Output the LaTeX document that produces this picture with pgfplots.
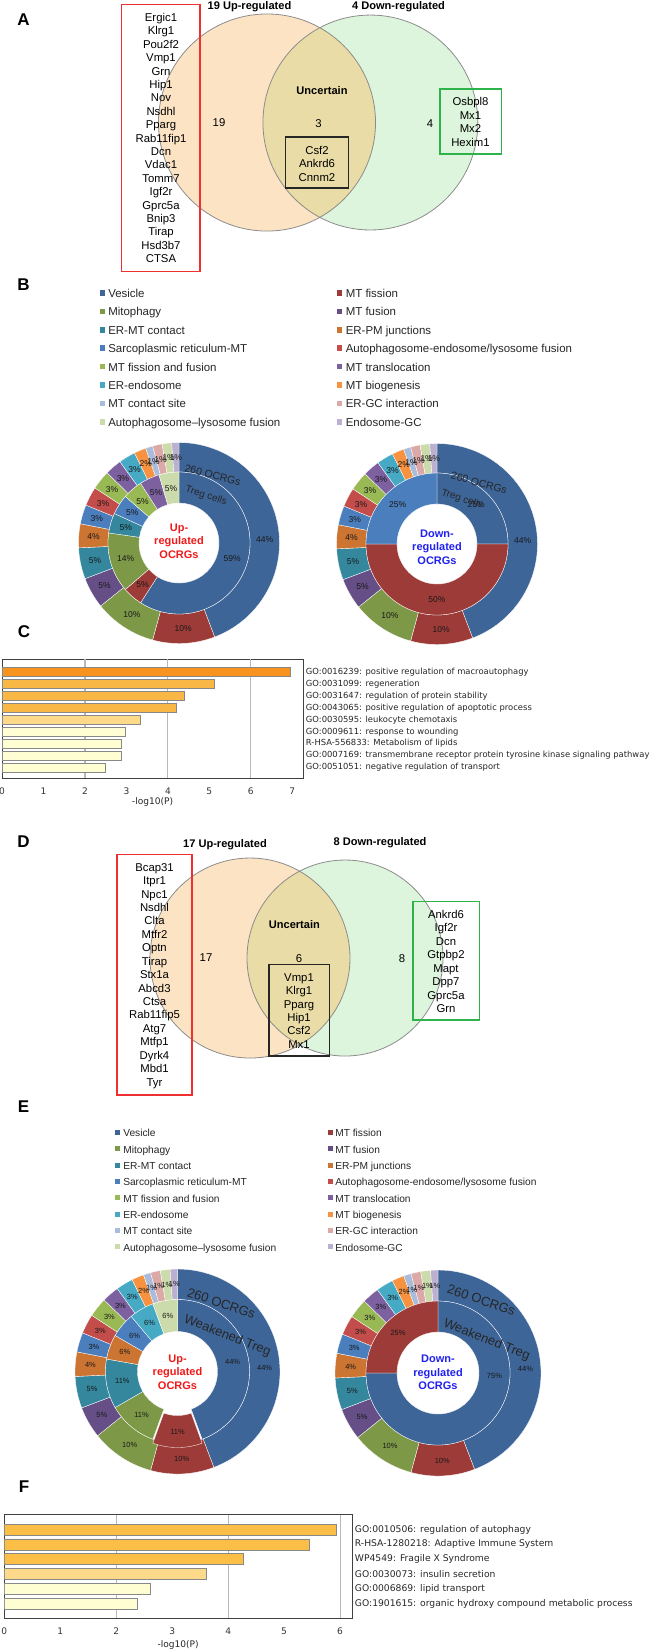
\documentclass[border=0pt]{standalone}
\usepackage{fontspec}
\setmainfont{Liberation Sans}
\newfontfamily\dv{DejaVu Sans}
\usepackage{pgfplots}
\pgfplotsset{compat=1.18}

\definecolor{cVes}{HTML}{3E6598}
\definecolor{cMTf}{HTML}{9D3B38}
\definecolor{cMito}{HTML}{7D9948}
\definecolor{cMTfu}{HTML}{654F86}
\definecolor{cERMT}{HTML}{34879D}
\definecolor{cERPM}{HTML}{CC7432}
\definecolor{cSarc}{HTML}{4B7EBD}
\definecolor{cAEL}{HTML}{C24D4A}
\definecolor{cMTff}{HTML}{98B954}
\definecolor{cMTtr}{HTML}{7D60A0}
\definecolor{cERen}{HTML}{46AAC5}
\definecolor{cMTbio}{HTML}{F69240}
\definecolor{cMTcs}{HTML}{A9BCDC}
\definecolor{cERGC}{HTML}{DDA9A8}
\definecolor{cALF}{HTML}{CCDBAB}
\definecolor{cEGC}{HTML}{BBB0D0}
\definecolor{vUp}{HTML}{FCE3C4}
\definecolor{vDn}{HTML}{DDF5DD}
\definecolor{vOv}{HTML}{E9DCA6}
\definecolor{vEdge}{HTML}{8C8C8C}
\definecolor{boxRed}{HTML}{EE3030}
\definecolor{boxGreen}{HTML}{2DB34A}
\definecolor{cRed}{HTML}{F01818}
\definecolor{cBlue}{HTML}{2020F0}
\definecolor{bO1}{HTML}{F7941E}
\definecolor{bO2}{HTML}{F9B845}
\definecolor{bO3}{HTML}{FDDA8A}
\definecolor{bO4}{HTML}{FFFDD2}
\definecolor{bF1}{HTML}{FBBF47}
\definecolor{bEdge}{HTML}{888888}

\tikzset{
  gene/.style={font=\fontsize{8.5pt}{10pt}\selectfont, inner sep=0pt, text height=1.5ex, text depth=0.25ex},
  vtitle/.style={font=\bfseries\fontsize{8.3pt}{10pt}\selectfont, inner sep=0pt, text height=1.5ex, text depth=0.25ex},
  letter/.style={font=\bfseries\fontsize{12.75pt}{14pt}\selectfont, inner sep=0pt, text height=1.5ex, text depth=0pt},
  ctr/.style={font=\bfseries\fontsize{8.25pt}{10.1pt}\selectfont, align=center, inner sep=0pt},
  pctB/.style={font=\fontsize{6.4pt}{7pt}\selectfont, text=black!90, inner sep=0pt},
  pctE/.style={font=\fontsize{5.6pt}{6.5pt}\selectfont, text=black!90, inner sep=0pt},
  pct/.style={pctB},
  legtxt/.style={anchor=west, inner sep=0pt, text=black!85, text height=1.5ex, text depth=0.25ex},
}

\newcommand{\aelname}{Autophagosome-endosome/lysosome fusion}
\newcommand{\alfname}{Autophagosome\textendash lysosome fusion}

% ring: #1 cx, #2 cy, #3 rin, #4 rout, #5 total, #6 list, #7 mode (1 fill, 2 labels)
\newcommand{\ring}[7]{%
  \gdef\accum{0}%
  \pgfmathsetmacro{\unitang}{360/#5}%
  \foreach \vv/\cc/\lb/\la/\ex in #6 {%
    \pgfmathsetmacro{\aS}{90-\accum*\unitang}%
    \pgfmathsetmacro{\aE}{90-(\accum+\vv)*\unitang}%
    \pgfmathsetmacro{\aM}{(\aS+\aE)/2}%
    \pgfmathsetmacro{\cxx}{#1+\ex*cos(\aM)}%
    \pgfmathsetmacro{\cyy}{#2-\ex*sin(\aM)}%
    \ifnum#7=1
      \pgfmathsetmacro{\xo}{\cxx+#4*cos(\aS)}%
      \pgfmathsetmacro{\yo}{\cyy-#4*sin(\aS)}%
      \pgfmathsetmacro{\xin}{\cxx+#3*cos(\aE)}%
      \pgfmathsetmacro{\yin}{\cyy-#3*sin(\aE)}%
      \pgfmathsetmacro{\ro}{#4*0.75}%
      \pgfmathsetmacro{\ri}{#3*0.75}%
      \fill[\cc, draw=white, line width=0.25pt] (axis cs:\xo,\yo) arc[start angle=\aS, end angle=\aE, radius=\ro pt] -- (axis cs:\xin,\yin) arc[start angle=\aE, end angle=\aS, radius=\ri pt] -- cycle;
    \else
      \pgfmathsetmacro{\aL}{\la>900 ? \aM : \la}%
      \pgfmathsetmacro{\rl}{(#3+#4)/2}%
      \pgfmathsetmacro{\xl}{\cxx+\rl*cos(\aL)}%
      \pgfmathsetmacro{\yl}{\cyy-\rl*sin(\aL)}%
      \node[pct] at (axis cs:\xl,\yl) {\lb\%};
    \fi
    \pgfmathsetmacro{\tmp}{\accum+\vv}\xdef\accum{\tmp}%
  }%
}

\newcommand{\genelist}[4]{%
  \foreach \g [count=\i from 0] in {#4} {%
    \pgfmathsetmacro{\gy}{#2+#3*\i}%
    \node[gene] at (axis cs:#1,\gy) {\g};
  }%
}

% #1 sq1 x, #2 text1 x, #3 sq2 x, #4 text2 x, #5 y0, #6 dy, #7 half size (pt)
\newcommand{\legendset}[7]{%
  \foreach \i/\ca/\ta/\cb/\tb in {0/cVes/Vesicle/cMTf/MT fission,1/cMito/Mitophagy/cMTfu/MT fusion,2/cERMT/ER-MT contact/cERPM/ER-PM junctions,3/cSarc/Sarcoplasmic reticulum-MT/cAEL/\aelname,4/cMTff/MT fission and fusion/cMTtr/MT translocation,5/cERen/ER-endosome/cMTbio/MT biogenesis,6/cMTcs/MT contact site/cERGC/ER-GC interaction,7/cALF/\alfname/cEGC/Endosome-GC} {%
    \pgfmathsetmacro{\yy}{#5+#6*\i}%
    \fill[\ca] (axis cs:#1,\yy) ++(-#7,-#7) rectangle ++(2*#7,2*#7);
    \node[legtxt] at (axis cs:#2,\yy) {\ta};
    \fill[\cb] (axis cs:#3,\yy) ++(-#7,-#7) rectangle ++(2*#7,2*#7);
    \node[legtxt] at (axis cs:#4,\yy) {\tb};
  }%
}

\def\outerL{115/cVes/44/2.5/0,26/cMTf/10/999/0,26/cMito/10/999/0,13/cMTfu/5/999/0,13/cERMT/5/999/0,10/cERPM/4/999/0,8/cSarc/3/999/0,8/cAEL/3/999/0,8/cMTff/3/999/0,7/cMTtr/3/999/0,7/cERen/3/999/0,5/cMTbio/2/999/0,3/cMTcs/1/999/0,4/cERGC/1/999/0,4/cALF/1/999/0,3/cEGC/1/999/0}
\def\innerBL{13/cVes/59/999/0,1/cMTf/5/999/0,3/cMito/14/999/0,1/cERMT/5/999/0,1/cSarc/5/999/0,1/cMTff/5/999/0,1/cMTtr/5/999/0,1/cALF/5/999/0}
\def\innerBR{1/cVes/25/999/0,2/cMTf/50/999/0,1/cSarc/25/999/0}
\def\innerEL{8/cVes/44/999/0,2/cMTf/11/999/4,2/cMito/11/999/0,2/cERMT/11/999/0,1/cERPM/6/999/0,1/cSarc/6/999/0,1/cERen/6/999/0,1/cALF/6/999/0}
\def\innerER{3/cVes/75/-3/0,1/cMTf/25/999/0}

\pgfplotsset{barchart/.style={
  scale only axis, anchor=north west, xbar, bar shift=0pt,
  y dir=reverse, xmin=0,
  major tick length=0pt,
  axis line style={draw=black!75, line width=0.6pt},
  xticklabel style={font=\dv\fontsize{6.8pt}{8pt}\selectfont, text=black!80},
  /pgf/number format/assume math mode=true,
  yticklabel pos=right,
  ytick style={draw=none},
  extra x ticks={2,4,6}, extra x tick labels={},
  extra x tick style={grid=major},
  major grid style={draw=black!28, line width=0.8pt},
  xlabel={-log10(P)},
  xlabel style={font=\dv\fontsize{6.8pt}{8pt}\selectfont, text=black!85, at={(axis description cs:0.5,0)}, anchor=center},
  xticklabel shift=3.4pt,
}}

\begin{document}
\begin{tikzpicture}
\path[use as bounding box] (0pt,0pt) rectangle (502.5pt,-1239pt);
\begin{axis}[at={(0pt,0pt)}, anchor=north west, scale only axis,
  width=502.5pt, height=1239pt, xmin=0, xmax=670, ymin=0, ymax=1652, y dir=reverse,
  hide axis, clip=false]
\pgfplotsextra{%
  % panel letters
  \node[letter] at (axis cs:23.6,20) {A};
  \node[letter] at (axis cs:23.6,285) {B};
  \node[letter] at (axis cs:24,631.7) {C};
  \node[letter] at (axis cs:23.6,841.7) {D};
  \node[letter] at (axis cs:23.6,1107.3) {E};
  \node[letter] at (axis cs:24,1487.3) {F};
  % ---------- Venn A
  \fill[vUp] (axis cs:267,122.5) circle[radius=81.4pt];
  \fill[vDn] (axis cs:370.4,122.5) circle[radius=80.6pt];
  \begin{scope}
    \clip (axis cs:267,122.5) circle[radius=81.4pt];
    \fill[vOv] (axis cs:370.4,122.5) circle[radius=80.6pt];
  \end{scope}
  \draw[vEdge, line width=0.6pt] (axis cs:267,122.5) circle[radius=81.4pt];
  \draw[vEdge, line width=0.6pt] (axis cs:370.4,122.5) circle[radius=80.6pt];
  \draw[boxRed, line width=1.1pt] (axis cs:121.5,4.3) rectangle (axis cs:200,271.7);
  \draw[black!85, line width=0.9pt] (axis cs:285.5,137) rectangle (axis cs:348.5,188);
  \draw[boxGreen, line width=1.1pt] (axis cs:440,89) rectangle (axis cs:501.5,154);
  \node[vtitle] at (axis cs:249.5,5.5) {19 Up-regulated};
  \node[vtitle] at (axis cs:398.5,5.5) {4 Down-regulated};
  \node[vtitle] at (axis cs:322,90) {Uncertain};
  \node[gene] at (axis cs:219,122) {19};
  \node[gene] at (axis cs:318.5,123) {3};
  \node[gene] at (axis cs:430,123) {4};
  \genelist{161}{17}{13.4}{Ergic1,Klrg1,Pou2f2,Vmp1,Grn,Hip1,Nov,Nsdhl,Pparg,Rab11fip1,Dcn,Vdac1,Tomm7,Igf2r,Gprc5a,Bnip3,Tirap,Hsd3b7,CTSA}
  \genelist{317}{150}{13.5}{Csf2,Ankrd6,Cnnm2}
  \genelist{470.5}{101}{13.6}{Osbpl8,Mx1,Mx2,Hexim1}
  % ---------- Venn D
  \fill[vUp] (axis cs:250,958) circle[radius=75pt];
  \fill[vDn] (axis cs:345,958) circle[radius=73.5pt];
  \begin{scope}
    \clip (axis cs:250,958) circle[radius=75pt];
    \fill[vOv] (axis cs:345,958) circle[radius=73.5pt];
  \end{scope}
  \draw[vEdge, line width=0.6pt] (axis cs:250,958) circle[radius=75pt];
  \draw[vEdge, line width=0.6pt] (axis cs:345,958) circle[radius=73.5pt];
  \draw[boxRed, line width=1.1pt] (axis cs:117,854.3) rectangle (axis cs:192,1095);
  \draw[black!85, line width=0.9pt] (axis cs:269,964.3) rectangle (axis cs:329.6,1056);
  \draw[boxGreen, line width=1.1pt] (axis cs:413,901.7) rectangle (axis cs:479.4,1020);
  \node[vtitle] at (axis cs:225,842.7) {17 Up-regulated};
  \node[vtitle] at (axis cs:380,841) {8 Down-regulated};
  \node[vtitle] at (axis cs:294.4,924.3) {Uncertain};
  \node[gene] at (axis cs:206,956.7) {17};
  \node[gene] at (axis cs:299,958.3) {6};
  \node[gene] at (axis cs:402,958.3) {8};
  \genelist{154.5}{866.7}{13.44}{Bcap31,Itpr1,Npc1,Nsdhl,Clta,Mtfr2,Optn,Tirap,Stx1a,Abcd3,Ctsa,Rab11fip5,Atg7,Mtfp1,Dyrk4,Mbd1,Tyr}
  \genelist{299}{976.7}{13.46}{Vmp1,Klrg1,Pparg,Hip1,Csf2,Mx1}
  \genelist{446}{914}{13.43}{Ankrd6,Igf2r,Dcn,Gtpbp2,Mapt,Dpp7,Gprc5a,Grn}
  % ---------- legends
  \tikzset{legtxt/.append style={font=\fontsize{8.6pt}{10pt}\selectfont}}
  \legendset{102.3}{108}{339.5}{345.5}{293}{18.4}{2.06pt}
  \tikzset{legtxt/.append style={font=\fontsize{7.65pt}{9pt}\selectfont}}
  \legendset{117.5}{123}{330.5}{335}{1132.3}{16.35}{1.9pt}
  % ---------- donuts B
  \ring{179}{543}{71}{100.5}{260}{\outerL}{1}
  \ring{179}{543}{40}{71}{22}{\innerBL}{1}
  \ring{437}{544}{71}{100.5}{260}{\outerL}{1}
  \ring{437}{544}{40}{71}{4}{\innerBR}{1}
  \tikzset{pct/.style=pctB}
  \ring{179}{543}{71}{100.5}{260}{\outerL}{2}
  \ring{179}{543}{40}{71}{22}{\innerBL}{2}
  \ring{437}{544}{71}{100.5}{260}{\outerL}{2}
  \ring{437}{544}{40}{71}{4}{\innerBR}{2}
  \node[rotate=-15, inner sep=0pt, text=black!85, font=\fontsize{7.9pt}{9pt}\selectfont] at (axis cs:212.7,475.3) {260 OCRGs};
  \node[rotate=-18, inner sep=0pt, text=black!85, font=\fontsize{7.5pt}{9pt}\selectfont] at (axis cs:206,496) {Treg cells};
  \node[rotate=-15, inner sep=0pt, text=black!85, font=\fontsize{7.9pt}{9pt}\selectfont] at (axis cs:479,482.7) {260 OCRGs};
  \node[rotate=-18, inner sep=0pt, text=black!85, font=\fontsize{7.5pt}{9pt}\selectfont] at (axis cs:462,499.3) {Treg cells};
  \node[ctr, text=cRed] at (axis cs:179,541) {Up-\\regulated\\OCRGs};
  \node[ctr, text=cBlue] at (axis cs:437,546.8) {Down-\\regulated\\OCRGs};
  % ---------- donuts E
  \ring{177.5}{1371.5}{72}{102.5}{260}{\outerL}{1}
  \ring{177.5}{1371.5}{40}{72}{18}{\innerEL}{1}
  \ring{438}{1373}{72}{103}{260}{\outerL}{1}
  \ring{438}{1373}{41}{72}{4}{\innerER}{1}
  \tikzset{pct/.style=pctE}
  \ring{177.5}{1371.5}{72}{102.5}{260}{\outerL}{2}
  \ring{177.5}{1371.5}{40}{72}{18}{\innerEL}{2}
  \ring{438}{1373}{72}{103}{260}{\outerL}{2}
  \ring{438}{1373}{41}{72}{4}{\innerER}{2}
  \node[rotate=-19, inner sep=0pt, text=black!85, font=\fontsize{9.75pt}{11pt}\selectfont] at (axis cs:221.3,1303.3) {260 OCRGs};
  \node[rotate=-21.5, inner sep=0pt, text=black!85, font=\fontsize{9.75pt}{11pt}\selectfont] at (axis cs:227.3,1336) {Weakened Treg};
  \node[rotate=-19, inner sep=0pt, text=black!85, font=\fontsize{9.75pt}{11pt}\selectfont] at (axis cs:481.3,1300) {260 OCRGs};
  \node[rotate=-21.5, inner sep=0pt, text=black!85, font=\fontsize{9.75pt}{11pt}\selectfont] at (axis cs:486.7,1340) {Weakened Treg};
  \node[ctr, text=cRed] at (axis cs:177.5,1372.2) {Up-\\regulated\\OCRGs};
  \node[ctr, text=cBlue] at (axis cs:438,1372.3) {Down-\\regulated\\OCRGs};
}
\end{axis}

% ---------- Panel C
\begin{axis}[barchart, at={(1.575pt,-494.6pt)}, width=225.7pt, height=89.1pt,
  xmax=7.26, ymin=-0.047, ymax=9.9, bar width=6.6pt,
  xtick={0,...,7}, ytick={1,...,9},
  yticklabels={GO:0016239: positive regulation of macroautophagy, GO:0031099: regeneration, GO:0031647: regulation of protein stability, GO:0043065: positive regulation of apoptotic process, GO:0030595: leukocyte chemotaxis, GO:0009611: response to wounding, R-HSA-556833: Metabolism of lipids, GO:0007169: transmembrane receptor protein tyrosine kinase signaling pathway, GO:0051051: negative regulation of transport},
  yticklabel style={font=\dv\fontsize{6.3pt}{8pt}\selectfont, text=black!85, anchor=west, inner xsep=0pt, xshift=2pt},
  xlabel style={yshift=-17.8pt}]
\addplot[fill=bO1, draw=bEdge, line width=0.5pt, bar shift=0pt] coordinates {(6.96,1)};
\addplot[fill=bO2, draw=bEdge, line width=0.5pt, bar shift=0pt] coordinates {(5.125,2) (4.385,3) (4.21,4)};
\addplot[fill=bO3, draw=bEdge, line width=0.5pt, bar shift=0pt] coordinates {(3.34,5)};
\addplot[fill=bO4, draw=bEdge, line width=0.5pt, bar shift=0pt] coordinates {(2.97,6) (2.875,7) (2.875,8) (2.5,9)};
\end{axis}

% ---------- Panel F
\begin{axis}[barchart, at={(3.225pt,-1135.9pt)}, width=260.8pt, height=77.85pt,
  xmax=6.214, ymin=-0.0135, ymax=7.0, bar width=8.25pt,
  xtick={0,...,6}, ytick={1,...,6},
  yticklabels={GO:0010506: regulation of autophagy, R-HSA-1280218: Adaptive Immune System, WP4549: Fragile X Syndrome, GO:0030073: insulin secretion, GO:0006869: lipid transport, GO:1901615: organic hydroxy compound metabolic process},
  yticklabel style={font=\dv\fontsize{6.9pt}{8pt}\selectfont, text=black!85, anchor=west, inner xsep=0pt, xshift=2pt},
  xlabel style={yshift=-20pt}]
\addplot[fill=bF1, draw=bEdge, line width=0.5pt, bar shift=0pt] coordinates {(5.93,1) (5.45,2) (4.28,3)};
\addplot[fill=bO3, draw=bEdge, line width=0.5pt, bar shift=0pt] coordinates {(3.61,4)};
\addplot[fill=bO4, draw=bEdge, line width=0.5pt, bar shift=0pt] coordinates {(2.61,5) (2.38,6)};
\end{axis}
\end{tikzpicture}
\end{document}
